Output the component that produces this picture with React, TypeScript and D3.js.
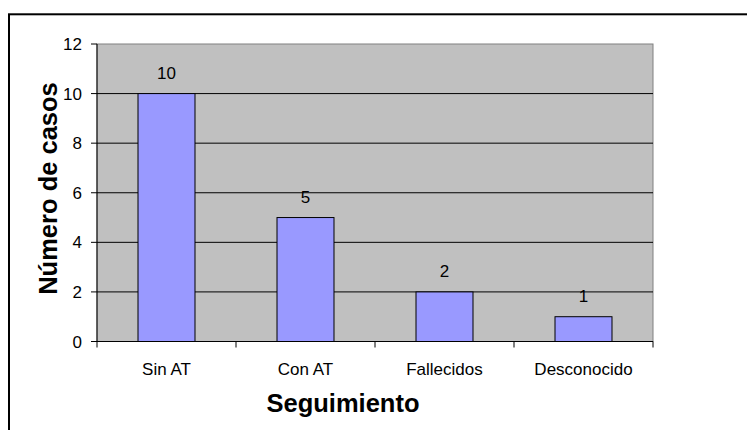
import React from "react";
import * as d3 from "d3";

// Follow-up outcome categories and case counts
const categories: string[] = ["Sin AT", "Con AT", "Fallecidos", "Desconocido"];
const casos: number[] = [10, 5, 2, 1];
const yTicks: number[] = [0, 2, 4, 6, 8, 10, 12];

const W = 747;
const H = 430;
const plot = { left: 97, right: 653, top: 44, bottom: 341.5 };
const FONT = "'Liberation Sans', Arial, sans-serif";

export default function App() {
  const x = d3
    .scaleBand<string>()
    .domain(categories)
    .range([plot.left, plot.right])
    .padding(0);
  const y = d3.scaleLinear().domain([0, 12]).range([plot.bottom, plot.top]);
  const barW = x.bandwidth() * 0.41;

  const bandEdges = [...categories.map((c) => x(c) as number), plot.right];

  return (
    <svg
      width={W}
      height={H}
      style={{ position: "absolute", left: 0, top: 0, display: "block" }}
      fontFamily={FONT}
    >
      <rect x={0} y={0} width={W} height={H} fill="#fff" />
      {/* chart area frame */}
      <rect x={9} y={14.3} width={W + 20} height={H + 20} fill="none" stroke="#000" strokeWidth={2} />

      {/* plot area */}
      <rect
        x={plot.left}
        y={plot.top}
        width={plot.right - plot.left}
        height={plot.bottom - plot.top}
        fill="#C0C0C0"
        stroke="#808080"
        strokeWidth={1}
      />

      {/* horizontal gridlines */}
      {yTicks
        .filter((t) => t > 0 && t < 12)
        .map((t) => (
          <line
            key={"g" + t}
            x1={plot.left}
            x2={plot.right}
            y1={y(t)}
            y2={y(t)}
            stroke="#000"
            strokeWidth={1}
          />
        ))}

      {/* bars */}
      {categories.map((c, i) => {
        const cx = (x(c) as number) + x.bandwidth() / 2;
        return (
          <g key={c}>
            <rect
              x={cx - barW / 2}
              y={y(casos[i])}
              width={barW}
              height={plot.bottom - y(casos[i])}
              fill="#9999FF"
              stroke="#000"
              strokeWidth={1}
            />
            <text
              x={cx}
              y={y(casos[i]) - 15}
              textAnchor="middle"
              fontSize={17}
              fill="#000"
            >
              {casos[i]}
            </text>
            <text x={cx} y={375} textAnchor="middle" fontSize={17} fill="#000">
              {c}
            </text>
          </g>
        );
      })}

      {/* y axis */}
      <line x1={plot.left} x2={plot.left} y1={plot.top} y2={plot.bottom} stroke="#000" strokeWidth={1} />
      {yTicks.map((t) => (
        <g key={"t" + t}>
          <line x1={plot.left - 6} x2={plot.left} y1={y(t)} y2={y(t)} stroke="#000" strokeWidth={1} />
          <text
            x={82}
            y={y(t)}
            dy="0.36em"
            textAnchor="end"
            fontSize={17}
            fill="#000"
          >
            {t}
          </text>
        </g>
      ))}

      {/* x axis */}
      <line x1={plot.left} x2={plot.right} y1={plot.bottom} y2={plot.bottom} stroke="#000" strokeWidth={1} />
      {bandEdges.map((bx, i) => (
        <line key={"xt" + i} x1={bx} x2={bx} y1={plot.bottom} y2={plot.bottom + 6} stroke="#000" strokeWidth={1} />
      ))}

      {/* axis titles */}
      <text
        x={343}
        y={412}
        textAnchor="middle"
        fontSize={25.5}
        fontWeight="bold"
        fill="#000"
      >
        Seguimiento
      </text>
      <text
        transform={`translate(57,188.5) rotate(-90)`}
        textAnchor="middle"
        fontSize={25.5}
        fontWeight="bold"
        fill="#000"
      >
        Número de casos
      </text>
    </svg>
  );
}
